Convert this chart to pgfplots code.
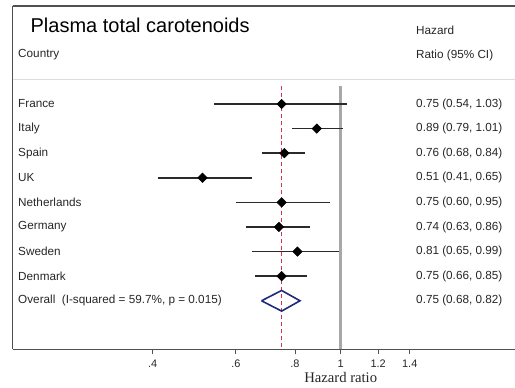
\documentclass[border=0pt]{standalone}
\usepackage{pgfplots}
\pgfplotsset{compat=1.18}
\usepackage{pgfplotstable}
\usepackage{fontspec}
\setmainfont{Liberation Sans}
\newfontfamily\seriffont{Liberation Serif}
\definecolor{txt}{HTML}{262626}
\definecolor{framec}{HTML}{505050}
\definecolor{refgray}{HTML}{A8A8A8}
\definecolor{hdrgray}{HTML}{DCDCDC}
\definecolor{dashred}{HTML}{D83050}
\definecolor{navy}{HTML}{1F2A7A}
\definecolor{whisk}{HTML}{2A2A2A}

% row position (y), hazard ratio, lower and upper 95% CI
\pgfplotstableread{
y hr lo hi
-1 0.75 0.54 1.03
-2 0.89 0.79 1.01
-3 0.76 0.68 0.84
-4 0.51 0.41 0.65
-5 0.75 0.60 0.95
-6 0.74 0.63 0.86
-7 0.81 0.65 0.99
-8 0.75 0.66 0.85
}\rows

\begin{document}
\begin{tikzpicture}
\useasboundingbox (-9.5pt,-28.3pt) rectangle (376.7pt,262pt);
\begin{axis}[
  at={(0,0)}, anchor=south west,
  scale only axis, width=376.7pt, height=257.5pt,
  xmode=log, xmin=0.2022, xmax=2.338,
  ymin=-10.976, ymax=2.985,
  axis x line*=bottom, axis y line*=left,
  axis line style={framec, line width=0.9pt},
  ytick=\empty,
  xtick={0.4,0.6,0.8,1,1.2,1.4},
  xticklabels={.4,.6,.8,1,1.2,1.4},
  minor xtick={}, 
  log ticks with fixed point,
  tick align=outside, major tick length=3.5pt,
  x tick style={framec, line width=0.6pt},
  xticklabel style={font=\fontsize{8.2}{9}\selectfont, text=txt, yshift=-1pt},
  /pgf/number format/assume math mode=true,
  clip=false,
]
% header separator and top frame
\draw[hdrgray, line width=0.8pt] (rel axis cs:0,0.7846) -- (rel axis cs:1,0.7846);
\draw[framec, line width=0.9pt] (rel axis cs:0,1) -- (rel axis cs:1,1);
% reference lines
\addplot[color=refgray, solid, line width=2pt, mark=none] table[x=x, y=y] {
x y
1 -0.268
1 -10.976
};
\addplot[color=dashred, solid, line width=1pt, mark=none, dash pattern=on 3pt off 2.2pt] table[x=x, y=y] {
x y
0.75 -0.268
0.75 -10.976
};
% confidence intervals
\addplot[draw=whisk, line width=1.2pt] coordinates {(0.54,-1) (1.03,-1)};
\addplot[draw=whisk, line width=1.2pt] coordinates {(0.79,-2) (1.01,-2)};
\addplot[draw=whisk, line width=1.2pt] coordinates {(0.68,-3) (0.84,-3)};
\addplot[draw=whisk, line width=1.2pt] coordinates {(0.41,-4) (0.65,-4)};
\addplot[draw=whisk, line width=1.2pt] coordinates {(0.60,-5) (0.95,-5)};
\addplot[draw=whisk, line width=1.2pt] coordinates {(0.63,-6) (0.86,-6)};
\addplot[draw=whisk, line width=1.2pt] coordinates {(0.65,-7) (0.99,-7)};
\addplot[draw=whisk, line width=1.2pt] coordinates {(0.66,-8) (0.85,-8)};
% point estimates
\addplot[only marks, mark=square*, mark size=2.5pt, mark options={rotate=45, fill=black, draw=black}] table[x=hr, y=y] {\rows};
% overall diamond
\addplot[draw=navy, line width=1.2pt, line join=miter] coordinates {(0.68,-9) (0.75,-8.58) (0.82,-9) (0.75,-9.42) (0.68,-9)};
% texts
\node[anchor=west, font=\fontsize{15}{18}\selectfont, text=black] at (axis cs:0.2157,2.213) {Plasma total carotenoids};
\begin{scope}[every node/.style={anchor=west, font=\fontsize{8.8}{10}\selectfont, text=txt, inner sep=0pt}]
\node at (axis cs:0.2075,0.993) {Country};
\node at (axis cs:1.443,1.98) {Hazard};
\node at (axis cs:1.443,0.993) {Ratio (95\% CI)};
\node at (axis cs:0.2075,-1) {France};
\node at (axis cs:0.2075,-2) {Italy};
\node at (axis cs:0.2075,-3) {Spain};
\node at (axis cs:0.2075,-4) {UK};
\node at (axis cs:0.2075,-5) {Netherlands};
\node at (axis cs:0.2075,-6) {Germany};
\node at (axis cs:0.2075,-7) {Sweden};
\node at (axis cs:0.2075,-8) {Denmark};
\node at (axis cs:0.2075,-9) {Overall\ \ (I-squared = 59.7\%, p = 0.015)};
\node at (axis cs:1.443,-1) {0.75 (0.54, 1.03)};
\node at (axis cs:1.443,-2) {0.89 (0.79, 1.01)};
\node at (axis cs:1.443,-3) {0.76 (0.68, 0.84)};
\node at (axis cs:1.443,-4) {0.51 (0.41, 0.65)};
\node at (axis cs:1.443,-5) {0.75 (0.60, 0.95)};
\node at (axis cs:1.443,-6) {0.74 (0.63, 0.86)};
\node at (axis cs:1.443,-7) {0.81 (0.65, 0.99)};
\node at (axis cs:1.443,-8) {0.75 (0.66, 0.85)};
\node at (axis cs:1.443,-9) {0.75 (0.68, 0.82)};
\end{scope}
\node[font=\seriffont\fontsize{11}{12}\selectfont, text=txt] at (axis cs:1,-12.1) {Hazard ratio};
\end{axis}
\end{tikzpicture}
\end{document}
